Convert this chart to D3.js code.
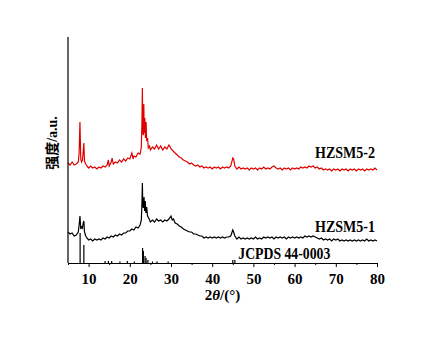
<!DOCTYPE html>
<html>
<head>
<meta charset="utf-8">
<script src="https://cdn.jsdelivr.net/npm/d3@7"></script>
<style>
body { margin:0; background:#fff; }
text { font-family:'Liberation Serif','Times New Roman',serif; font-weight:bold; }
</style>
</head>
<body>
<svg id="chart" width="443" height="352"></svg>
<script>
var margin = {top:37, right:66, bottom:89, left:68},
    width = 443 - margin.left - margin.right,
    height = 352 - margin.top - margin.bottom;

// 2theta (deg), intensity (a.u.)
var hzsm52 = [[5,100],[5.5,98],[6,101],[6.5,98],[7,99],[7.5,101],[7.7,110],[7.9,141],[8.1,104],[8.3,101],[8.5,103],[8.7,112],[8.85,120],[9,102],[9.3,99],[9.6,97],
[10,95],[10.5,97],[11,95],[11.5,96],[12,94],[12.5,96],[13,95],[13.5,97],[14,96],[14.5,98],[14.8,103],[15,97],[15.5,101],[15.7,105],[16,99],[16.5,101],[17,100],[17.5,103],[18,101],[18.5,104],[19,102],[19.5,105],
[20,104],[20.5,110],[20.8,104],[21,107],[21.5,106],[22,110],[22.5,109],[22.8,116],[22.95,140],[23.05,175],[23.15,130],[23.3,128],[23.4,159],[23.5,130],[23.65,145],[23.8,125],[23.95,141],[24.1,122],[24.3,125],[24.5,115],[24.8,117],
[25,113],[25.5,116],[26,114],[26.5,118],[27,114],[27.5,117],[28,113],[28.5,116],[29,114],[29.5,118],[29.8,116],[30,114],[30.5,112],[31,110],[31.5,108],[32,106],[32.5,105],[33,103],[33.5,102],[34,101],[34.5,99],
[35,100],[35.5,98],[36,97],[36.5,98],[37,96],[37.5,97],[38,95],[38.5,96],[39,95],[39.5,96],[40,94],[40.5,96],[41,95],[41.5,96],[42,94],[42.5,96],[43,95],[43.5,96],[44,95],[44.5,97],[45,105],[45.2,104],[45.5,97],
[46,94],[46.5,96],[47,94],[47.5,95],[48,94],[48.5,95],[49,93],[49.5,95],[50,94],[50.5,95],[51,93],[51.5,95],[52,94],[52.5,96],[53,94],[53.5,95],[54,94],[54.5,96],[55,97],[55.5,95],[56,94],[56.5,95],[57,93],[57.5,95],[58,94],[58.5,95],[59,93],[59.5,95],
[60,94],[60.5,95],[61,94],[61.5,96],[62,95],[62.5,96],[63,95],[63.5,97],[64,96],[64.5,97],[65,95],[65.5,96],[66,94],[66.5,95],[67,93],[67.5,94],[68,93],[68.5,94],[69,92],[69.5,94],
[70,93],[70.5,94],[71,92],[71.5,94],[72,93],[72.5,94],[73,92],[73.5,94],[74,93],[74.5,94],[75,92],[75.5,94],[76,93],[76.5,94],[77,92],[77.5,94],[78,93],[78.5,94],[79,93],[79.5,95],[80,93]];

var hzsm51 = [[5,31],[5.5,29],[6,30],[6.5,27],[7,28],[7.5,31],[7.7,38],[7.9,47],[8.1,34],[8.3,36],[8.5,35],[8.7,40],[8.85,42],[9,31],[9.3,27],[9.6,25],
[10,23],[10.5,24],[11,22],[11.5,24],[12,23],[12.5,24],[13,23],[13.5,25],[14,24],[14.5,26],[15,25],[15.5,27],[16,26],[16.5,28],[17,27],[17.5,29],[18,28],[18.5,30],[19,30],[19.5,32],
[20,32],[20.5,34],[21,33],[21.5,36],[22,35],[22.5,38],[22.8,43],[22.95,60],[23.05,80],[23.15,58],[23.3,55],[23.45,66],[23.6,52],[23.75,62],[23.9,50],[24.1,56],[24.3,47],[24.6,45],
[25,41],[25.5,43],[26,41],[26.5,44],[27,42],[27.5,43],[28,41],[28.5,43],[29,42],[29.5,44],[30,47],[30.3,43],[30.6,44],[31,40],[31.5,39],[32,37],[32.5,36],[33,34],[33.5,33],[34,32],[34.5,31],
[35,31],[35.5,29],[36,29],[36.5,28],[37,27],[37.5,27],[38,25],[38.5,26],[39,25],[39.5,26],[40,25],[40.5,26],[41,25],[41.5,26],[42,25],[42.5,26],[43,25],[43.5,26],[44,26],[44.5,27],[45,33],[45.2,31],[45.5,27],
[46,24],[46.5,26],[47,24],[47.5,25],[48,24],[48.5,25],[49,24],[49.5,25],[50,24],[50.5,26],[51,24],[51.5,25],[52,24],[52.5,26],[53,25],[53.5,26],[54,25],[54.5,26],[55,24],[55.5,26],[56,25],[56.5,26],[57,25],[57.5,26],[58,24],[58.5,26],[59,25],[59.5,26],
[60,25],[60.5,26],[61,25],[61.5,26],[62,25],[62.5,27],[63,26],[63.5,27],[64,26],[64.5,27],[65,26],[65.5,25],[66,24],[66.5,25],[67,23],[67.5,24],[68,23],[68.5,24],[69,22],[69.5,24],
[70,23],[70.5,24],[71,22],[71.5,23],[72,22],[72.5,23],[73,22],[73.5,23],[74,22],[74.5,23],[75,22],[75.5,23],[76,22],[76.5,23],[77,22],[77.5,24],[78,22],[78.5,23],[79,22],[79.5,23],[80,22]];

// JCPDS 44-0003 reference lines
var jcpds = [[7.94,30],[8.85,18],[14.0,2],[14.8,2],[15.6,2],[17.6,1.5],[19.4,2],[21.1,1.5],[23.1,15],[23.3,12],[23.7,7],[23.95,5],[24.4,3],[25.5,1.5],[26.6,1.5],[29.3,1.5],[45.0,3],[45.5,3]];

var xTicks = [10,20,30,40,50,60,70,80];
var xMinor = [5,15,25,35,45,55,65,75];
var seriesLabels = ['HZSM5-2','HZSM5-1','JCPDS 44-0003'];

var svg = d3.select('#chart');
var g = svg.append('g').attr('transform','translate('+margin.left+','+margin.top+')');

var xScale = d3.scaleLinear().domain([5,80]).range([0,width]);
var yScale = d3.scaleLinear().domain([0,226]).range([height,0]);

var line = d3.line()
    .x(d => xScale(d[0]))
    .y(d => yScale(d[1]));

g.append('path')
    .datum(hzsm52)
    .attr('d',line)
    .attr('fill','none')
    .attr('stroke','#e00000')
    .attr('stroke-width',1.2);

g.append('path')
    .datum(hzsm51)
    .attr('d',line)
    .attr('fill','none')
    .attr('stroke','#000')
    .attr('stroke-width',1.2);

g.selectAll('.stick')
    .data(jcpds)
    .join('line')
    .attr('class','stick')
    .attr('x1',d => xScale(d[0]))
    .attr('x2',d => xScale(d[0]))
    .attr('y1',yScale(0))
    .attr('y2',d => yScale(d[1]))
    .attr('stroke','#000')
    .attr('stroke-width',1.2);

// axes
var xAxis = d3.axisBottom(xScale).tickValues(xTicks).tickSize(4).tickSizeOuter(0);
var ax = g.append('g')
    .attr('transform','translate(0,'+height+')')
    .call(xAxis);
ax.select('.domain').attr('stroke','#000').attr('stroke-width',1.2);
ax.selectAll('.tick text')
    .attr('dy','0.9em')
    .style('font-size','15px')
    .style('font-family',"'Liberation Serif',serif")
    .style('font-weight','bold');

g.append('g')
    .attr('transform','translate(0,'+height+')')
    .call(d3.axisBottom(xScale).tickValues(xMinor).tickSize(2).tickFormat(''))
    .select('.domain').remove();

g.append('line')
    .attr('x1',0).attr('x2',0)
    .attr('y1',0).attr('y2',height)
    .attr('stroke','#000')
    .attr('stroke-width',1.2);

// labels
var labelPos = [[80,158-margin.top],[80,232-margin.top],[57.5,259-margin.top]];
g.selectAll('.slabel')
    .data(seriesLabels)
    .join('text')
    .attr('class','slabel')
    .attr('x',(d,i) => i == 2 ? xScale(labelPos[i][0]) : xScale(labelPos[i][0]) - 2)
    .attr('y',(d,i) => labelPos[i][1])
    .attr('text-anchor',(d,i) => i == 2 ? 'middle' : 'end')
    .attr('textLength',(d,i) => i == 2 ? 92 : 60)
    .attr('lengthAdjust','spacingAndGlyphs')
    .style('font-size','16px')
    .text(d => d);

var xl = g.append('text')
    .attr('x',xScale(42.5))
    .attr('y',300-margin.top)
    .attr('text-anchor','middle')
    .style('font-size','15px');
xl.append('tspan').text('2');
xl.append('tspan').style('font-style','italic').text('θ');
xl.append('tspan').text('/(°)');

g.append('text')
    .attr('transform','translate('+(-11)+','+(143-margin.top)+') rotate(-90)')
    .attr('text-anchor','middle')
    .style('font-size','14px')
    .style('font-family',"'Liberation Serif','Noto Sans CJK SC',serif")
    .text('强度/a.u.');
</script>
</body>
</html>
